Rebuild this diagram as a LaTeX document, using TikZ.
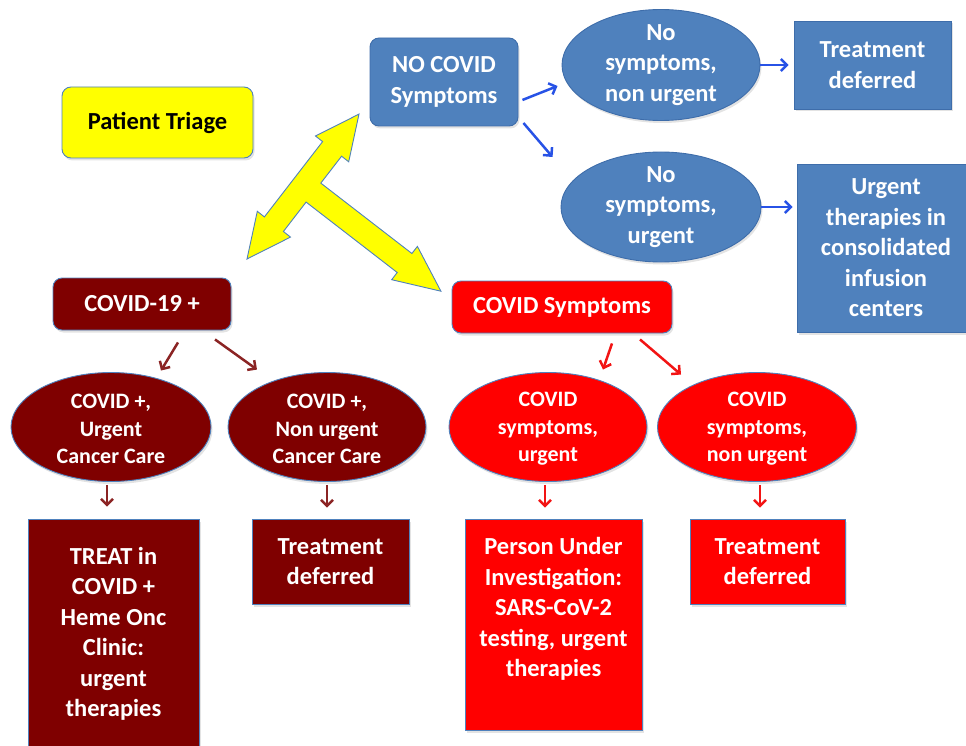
\documentclass[tikz,border=0pt]{standalone}
\usepackage{fontspec}
\setmainfont{Carlito}
\usetikzlibrary{arrows.meta,shapes.geometric,calc,shadows}
\definecolor{pblue}{HTML}{4F81BD}
\definecolor{pblueline}{HTML}{3E6DAA}
\definecolor{pdark}{HTML}{7F0000}
\definecolor{pred}{HTML}{FF0000}
\definecolor{pyel}{HTML}{FFFF00}
\definecolor{arrblue}{HTML}{2752E6}
\definecolor{arrdark}{HTML}{8B2424}
\definecolor{arrred}{HTML}{F21414}
\begin{document}
\begin{tikzpicture}[x=1pt,y=-1pt,
  base/.style={draw=pblue, line width=0.9pt, text=white,
    font=\fontsize{24.5}{30.5}\selectfont\bfseries, align=center, inner sep=0pt,
    drop shadow={shadow xshift=1.5pt,shadow yshift=-2.5pt,opacity=0.22}},
  rbox/.style={base, rectangle, rounded corners=9pt},
  sbox/.style={base, rectangle},
  ell/.style={base, ellipse},
  txt/.style={text=white, font=\fontsize{24.5}{30.5}\selectfont\bfseries, align=center, inner sep=0pt},
  stxt/.style={text=white, font=\fontsize{22}{27.5}\selectfont\bfseries, align=center, inner sep=0pt},
  conn/.style={line width=2.5pt, -{Straight Barb[length=6pt,width=12pt,line width=2.5pt]}},
]
\useasboundingbox (0,0) rectangle (966,746);
\clip (0,0) rectangle (966,746);

% top part
\node[rbox, fill=pyel, text=black, minimum width=191pt, minimum height=71pt] (triage) at (157.5,122.5) {Patient Triage};
\node[rbox, fill=pblue, draw=pblueline, minimum width=148pt, minimum height=88pt] (nocovid) at (444,82) {NO COVID\\Symptoms};
\node[ell, fill=pblue, draw=pblueline, minimum width=198pt, minimum height=111pt] (e1) at (661,65) {};
\node[txt] (e1t) at (e1) {No\\symptoms,\\non urgent};
\node[ell, fill=pblue, draw=pblueline, minimum width=200pt, minimum height=110pt] (e2) at (661,207) {};
\node[txt] (e2t) at (e2) {No\\symptoms,\\urgent};
\node[sbox, fill=pblue, draw=pblueline, minimum width=157pt, minimum height=88pt] (td1) at (872.5,65) {Treatment\\deferred};
\node[sbox, fill=pblue, draw=pblueline, minimum width=178pt, minimum height=168pt] (urg) at (886,248) {Urgent\\therapies in\\consolidated\\infusion\\centers};

% yellow block arrow
\draw[fill=pyel, draw=pblue, line width=0.9pt, line join=miter]
  (247,259) -- (257.3,211.3) -- (264.4,216.9) -- (322.6,141.6) -- (315.5,136.0)
  -- (359,114.1) -- (348.7,161.8) -- (341.6,156.2) -- (320.8,183.1)
  -- (411.9,253.5) -- (417.4,246.4) -- (440.9,291.2) -- (391.7,279.7)
  -- (397.2,272.5) -- (306.1,202.1) -- (283.4,231.5) -- (290.5,237.1) -- cycle;

% middle boxes
\node[rbox, fill=pdark, minimum width=178pt, minimum height=52pt] (covpos) at (142,304) {COVID-19 +};
\node[rbox, fill=pred, minimum width=220pt, minimum height=52pt] (covsym) at (562,307) {COVID Symptoms};

% ellipses
\node[ell, fill=pdark, minimum width=200pt, minimum height=109pt] (ep1) at (111,427) {};
\node[stxt] (ep1t) at (111,429) {COVID +,\\Urgent\\Cancer Care};
\node[ell, fill=pdark, minimum width=198pt, minimum height=109pt] (ep2) at (327,427) {};
\node[stxt] (ep2t) at (327,429) {COVID +,\\Non urgent\\Cancer Care};
\node[ell, fill=pred, minimum width=198pt, minimum height=109pt] (es1) at (548,427) {};
\node[stxt] (es1t) at (548,429) {COVID\\symptoms,\\urgent};
\node[ell, fill=pred, minimum width=199pt, minimum height=109pt] (es2) at (757,427) {};
\node[stxt] (es2t) at (757,429) {COVID\\symptoms,\\non urgent};

% bottom boxes
\node[sbox, fill=pdark, minimum width=171pt, minimum height=241pt] (treat) at (113.5,639.5) {};
\node[txt] (treatt) at (113.5,634) {TREAT in\\COVID +\\Heme Onc\\Clinic:\\urgent\\therapies};
\node[sbox, fill=pdark, minimum width=157pt, minimum height=85pt] (tdd) at (330.5,561.5) {Treatment\\deferred};
\node[sbox, fill=pred, minimum width=177pt, minimum height=211pt] (pui) at (553.5,624.5) {};
\node[txt] (puit) at (553.5,609) {Person Under\\Investigation:\\SARS-CoV-2\\testing, urgent\\therapies};
\node[sbox, fill=pred, minimum width=155pt, minimum height=85pt] (tdr) at (767.5,561.5) {Treatment\\deferred};

% connectors
\draw[conn, arrblue] ($(nocovid.east)+(4,18)$) -- ($(e1.west)+(-4,21)$);
\draw[conn, arrblue] ($(nocovid.east)+(5,41)$) -- ($(e2.west)+(-8,-50)$);
\draw[conn, arrblue] (e1.east) -- ($(td1.west)+(-5,0)$);
\draw[conn, arrblue] (e2.east) -- ($(e2.east -| urg.west)+(-4,0)$);

\draw[conn, arrdark] ($(covpos.south)+(36,12)$) -- ($(ep1.north)+(50,-1.5)$);
\draw[conn, arrdark] ($(covpos.south)+(73,9)$) -- ($(ep2.north)+(-70,-2.5)$);
\draw[conn, arrdark] ($(ep1.south)+(-4,3)$) -- ($(treat.north -| ep1.south)+(-4,-12)$);
\draw[conn, arrdark] ($(ep2.south)+(0,3)$) -- ($(tdd.north -| ep2.south)+(0,-11)$);

\draw[conn, arrred] ($(covsym.south)+(50,10)$) -- ($(es1.north)+(55,-2.5)$);
\draw[conn, arrred] ($(covsym.south)+(78,6)$) -- ($(es2.north)+(-76,2.5)$);
\draw[conn, arrred] ($(es1.south)+(-3,3)$) -- ($(pui.north -| es1.south)+(-3,-11)$);
\draw[conn, arrred] ($(es2.south)+(3,3)$) -- ($(tdr.north -| es2.south)+(3,-11)$);
\end{tikzpicture}
\end{document}
